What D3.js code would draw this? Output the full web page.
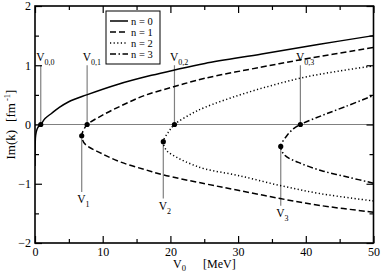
<!DOCTYPE html>
<html lang="en">
  <head>
    <meta charset="UTF-8">
    <title>Im(k) vs V0</title>
    <style>
      body {
        margin: 0;
        background: #fff;
      }
    </style>
  </head>
  <body>
    <div id="chart"></div>

    <script src="https://d3js.org/d3.v7.min.js"></script>
    <script>
      // values: [V0 in MeV, Im(k) in fm^-1], ordered along each curve
      const curveN0 = [
        [0, -0.70], [0.005, -0.5], [0.03, -0.32], [0.1, -0.18], [0.3, -0.08], [0.55, -0.03],
        [0.85, 0], [1.48, 0.10], [2.46, 0.19], [3.5, 0.28], [4.92, 0.38], [7.63, 0.50],
        [12.3, 0.68], [17.2, 0.83], [20.6, 0.92], [25.1, 1.03], [33.5, 1.19], [41.8, 1.35], [50, 1.50]
      ];
      const curveN1 = [
        [50, -1.48], [42.3, -1.37], [36.2, -1.25], [30, -1.11], [25.1, -1.0], [18.95, -0.85],
        [16.2, -0.76], [12.8, -0.64], [9.85, -0.49], [7.39, -0.33], [6.9, -0.19], [7.28, -0.07],
        [7.7, 0], [9.85, 0.15], [12.8, 0.32], [16.2, 0.49], [20.6, 0.64], [25.1, 0.78],
        [33.5, 0.97], [39.1, 1.09], [50, 1.30]
      ];
      const curveN2 = [
        [50, -1.29], [42.3, -1.17], [36.2, -1.03], [30, -0.86], [25.1, -0.75], [23.1, -0.67],
        [21.2, -0.57], [19.45, -0.44], [18.95, -0.29], [19.7, -0.13], [20.6, 0], [23.1, 0.18],
        [25.1, 0.29], [30, 0.49], [35, 0.66], [39.9, 0.80], [44.8, 0.90], [50, 0.99]
      ];
      const curveN3 = [
        [50, -0.99], [46.3, -0.89], [42.35, -0.78], [38.9, -0.64], [36.9, -0.52], [36.3, -0.37],
        [37.2, -0.19], [38.2, -0.07], [39.2, 0], [42.35, 0.15], [45.8, 0.30], [50, 0.49]
      ];

      // zero crossings V0,n and branch points Vn
      const thresholdV = [0.85, 7.7, 20.6, 39.2];
      const thresholdLabels = ['0,0', '0,1', '0,2', '0,3'];
      const thresholdTop = 1.0;

      const branchV = [6.9, 18.95, 36.3];
      const branchIm = [-0.19, -0.29, -0.37];
      const branchBottom = [-1.14, -1.25, -1.37];
      const branchLabels = ['1', '2', '3'];

      const legendLabels = ['n = 0', 'n = 1', 'n = 2', 'n = 3'];
      const xTicks = [0, 10, 20, 30, 40, 50];
      const xMinorTicks = [5, 15, 25, 35, 45];
      const yTicks = [-2, -1, 0, 1, 2];
      const yMinorTicks = [-1.5, -0.5, 0.5, 1.5];

      const serif = "'Liberation Serif', 'Times New Roman', Times, 'DejaVu Serif', serif";

      const width = 382;
      const height = 274;
      const plotLeft = 35, plotRight = 373.5, plotTop = 6, plotBottom = 243;

      const x = d3.scaleLinear().domain([0, 50]).range([plotLeft, plotRight]);
      const y = d3.scaleLinear().domain([-2, 2]).range([plotBottom, plotTop]);

      const svg = d3.select('#chart').append('svg')
        .attr('width', width)
        .attr('height', height)
        .attr('font-family', serif);

      svg.append('defs').append('clipPath')
        .attr('id', 'plot-clip')
        .append('rect')
        .attr('x', plotLeft)
        .attr('y', plotTop)
        .attr('width', plotRight - plotLeft)
        .attr('height', plotBottom - plotTop);

      // zero line
      svg.append('line')
        .attr('x1', x(0)).attr('x2', x(50))
        .attr('y1', y(0)).attr('y2', y(0))
        .attr('stroke', '#808080')
        .attr('stroke-width', 1.2);

      // vertical markers
      const gray = svg.append('g')
        .attr('stroke', '#808080')
        .attr('stroke-width', 1.2);

      thresholdV.forEach(v => {
        gray.append('line')
          .attr('x1', x(v)).attr('x2', x(v))
          .attr('y1', y(0)).attr('y2', y(thresholdTop));
      });

      branchV.forEach((v, i) => {
        gray.append('line')
          .attr('x1', x(v)).attr('x2', x(v))
          .attr('y1', y(branchIm[i])).attr('y2', y(branchBottom[i]));
      });

      // curves
      const line = d3.line()
        .x(d => x(d[0]))
        .y(d => y(d[1]))
        .curve(d3.curveCatmullRom.alpha(0.5));

      const curves = [curveN0, curveN1, curveN2, curveN3];
      const dashes = [null, '6,3', '1.2,2.4', '6,2.5,1.5,2.5'];

      const curveGroup = svg.append('g').attr('clip-path', 'url(#plot-clip)');
      curves.forEach((c, i) => {
        curveGroup.append('path')
          .datum(c)
          .attr('d', line)
          .attr('fill', 'none')
          .attr('stroke', '#000')
          .attr('stroke-width', 1.5)
          .attr('stroke-dasharray', dashes[i]);
      });

      // dots
      const dots = svg.append('g').attr('fill', '#000');
      thresholdV.forEach(v => {
        dots.append('circle').attr('cx', x(v)).attr('cy', y(0)).attr('r', 2.6);
      });
      branchV.forEach((v, i) => {
        dots.append('circle').attr('cx', x(v)).attr('cy', y(branchIm[i])).attr('r', 2.6);
      });

      // V labels
      const addVLabel = (cx, baseline, sub) => {
        const t = svg.append('text')
          .attr('x', cx - 4.5)
          .attr('y', baseline)
          .attr('font-family', serif)
          .attr('font-size', 11.5);
        t.append('tspan').text('V');
        t.append('tspan')
          .attr('dy', 4)
          .attr('font-size', 8)
          .text(sub);
      };

      thresholdV.forEach((v, i) => {
        addVLabel(x(v), y(thresholdTop) - 4, thresholdLabels[i]);
      });
      branchV.forEach((v, i) => {
        addVLabel(x(v), y(branchBottom[i]) + 11, branchLabels[i]);
      });

      // axes, ticks pointing inward on all four sides
      const axisGroup = svg.append('g');
      const styleAxis = g => {
        g.attr('font-family', serif).attr('font-size', 12);
        g.select('.domain').remove();
        g.selectAll('line').attr('stroke', '#000').attr('stroke-width', 1.2);
        g.selectAll('text').attr('fill', '#000');
      };

      axisGroup.append('g')
        .attr('transform', `translate(0,${plotBottom})`)
        .call(d3.axisBottom(x).tickValues(xTicks).tickSize(-7).tickPadding(4).tickFormat(d3.format('d')))
        .call(styleAxis);
      axisGroup.append('g')
        .attr('transform', `translate(0,${plotBottom})`)
        .call(d3.axisBottom(x).tickValues(xMinorTicks).tickSize(-4).tickFormat(''))
        .call(styleAxis);
      axisGroup.append('g')
        .attr('transform', `translate(0,${plotTop})`)
        .call(d3.axisTop(x).tickValues(xTicks).tickSize(-7).tickFormat(''))
        .call(styleAxis);
      axisGroup.append('g')
        .attr('transform', `translate(0,${plotTop})`)
        .call(d3.axisTop(x).tickValues(xMinorTicks).tickSize(-4).tickFormat(''))
        .call(styleAxis);

      axisGroup.append('g')
        .attr('transform', `translate(${plotLeft},0)`)
        .call(d3.axisLeft(y).tickValues(yTicks).tickSize(-7).tickPadding(4).tickFormat(d3.format('d')))
        .call(styleAxis);
      axisGroup.append('g')
        .attr('transform', `translate(${plotLeft},0)`)
        .call(d3.axisLeft(y).tickValues(yMinorTicks).tickSize(-4).tickFormat(''))
        .call(styleAxis);
      axisGroup.append('g')
        .attr('transform', `translate(${plotRight},0)`)
        .call(d3.axisRight(y).tickValues(yTicks).tickSize(-7).tickFormat(''))
        .call(styleAxis);
      axisGroup.append('g')
        .attr('transform', `translate(${plotRight},0)`)
        .call(d3.axisRight(y).tickValues(yMinorTicks).tickSize(-4).tickFormat(''))
        .call(styleAxis);

      // frame
      svg.append('rect')
        .attr('x', plotLeft)
        .attr('y', plotTop)
        .attr('width', plotRight - plotLeft)
        .attr('height', plotBottom - plotTop)
        .attr('fill', 'none')
        .attr('stroke', '#000')
        .attr('stroke-width', 1.6);

      // legend
      const legend = svg.append('g');
      legend.append('rect')
        .attr('x', 106)
        .attr('y', 11)
        .attr('width', 54)
        .attr('height', 53)
        .attr('fill', '#fff')
        .attr('stroke', '#000')
        .attr('stroke-width', 1);

      legendLabels.forEach((label, i) => {
        const ry = 21 + i * 11;
        legend.append('line')
          .attr('x1', 110).attr('x2', 128)
          .attr('y1', ry).attr('y2', ry)
          .attr('stroke', '#000')
          .attr('stroke-width', 1.5)
          .attr('stroke-dasharray', dashes[i]);
        legend.append('text')
          .attr('x', 131)
          .attr('y', ry + 4)
          .attr('font-family', serif)
          .attr('font-size', 10.5)
          .text(label);
      });

      // axis titles
      const xTitle = svg.append('text')
        .attr('x', 173)
        .attr('y', 268)
        .attr('font-family', serif)
        .attr('font-size', 12);
      xTitle.append('tspan').text('V');
      xTitle.append('tspan').attr('dy', 3).attr('font-size', 8.5).text('0');
      xTitle.append('tspan').attr('x', 203).attr('dy', -3).text('[MeV]');

      const yTitle = svg.append('text')
        .attr('transform', `translate(15,${(plotTop + plotBottom) / 2}) rotate(-90)`)
        .attr('text-anchor', 'middle')
        .attr('font-family', serif)
        .attr('font-size', 13);
      yTitle.append('tspan').text('Im(k)');
      yTitle.append('tspan').attr('dx', 8).text('[fm');
      yTitle.append('tspan').attr('dy', -5).attr('font-size', 8.5).text(' -1');
      yTitle.append('tspan').attr('dy', 5).text(']');
    </script>
  </body>
</html>
